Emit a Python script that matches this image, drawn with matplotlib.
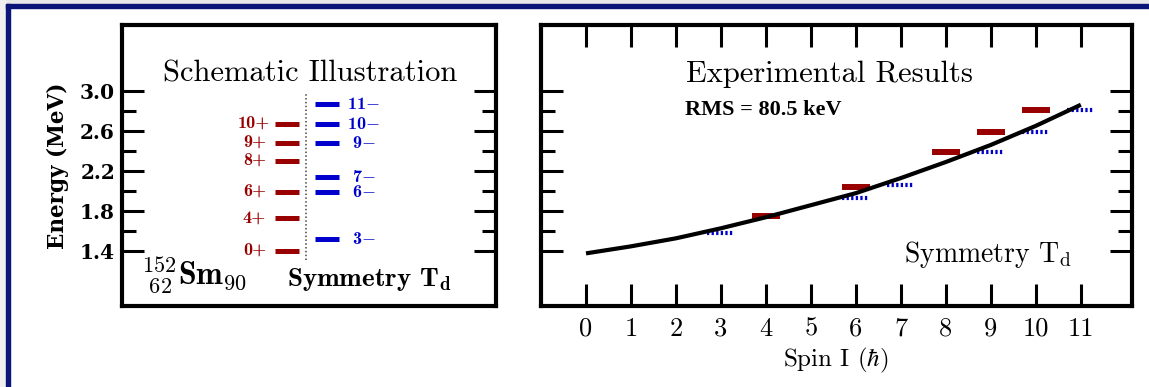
import matplotlib
matplotlib.use("Agg")
import matplotlib.pyplot as plt
from matplotlib.patches import Rectangle
from matplotlib.ticker import FixedLocator, FixedFormatter

plt.rcParams['mathtext.fontset'] = 'cm'

# ---- data ----
# schematic levels (left panel), MeV
pos_spins = ['0+', '4+', '6+', '8+', '9+', '10+']
pos_energy = [1.40, 1.73, 1.99, 2.30, 2.476, 2.669]
neg_spins = ['3', '6', '7', '9', '10', '11']
neg_energy = [1.526, 1.989, 2.138, 2.476, 2.669, 2.871]

# experimental results (right panel)
exp_pos_spin = [4, 6, 8, 9, 10]
exp_pos_energy = [1.756, 2.039, 2.387, 2.586, 2.808]
exp_neg_spin = [3, 6, 7, 9, 10, 11]
exp_neg_energy = [1.581, 1.929, 2.059, 2.387, 2.586, 2.808]

# fitted curve
fit_spin = [0, 1, 2, 3, 4, 5, 6, 7, 8, 9, 10, 11]
fit_energy = [1.38, 1.45, 1.53, 1.63, 1.74, 1.86, 1.98, 2.13, 2.29, 2.46, 2.65, 2.86]

yticks_major = [1.4, 1.8, 2.2, 2.6, 3.0]
yticks_minor = [1.6, 2.0, 2.4, 2.8]
xticks = list(range(12))

RED = '#990000'
BLUE = '#0000cc'
NAVY = '#0a1577'
RM = 'cmr10'
BF = 'cmb10'
HEAVY = 'DejaVu Serif'

W, H = 1149, 387
fig = plt.figure(figsize=(W / 100, H / 100), dpi=100)
fig.patch.set_facecolor('white')

# page frame
fig.add_artist(Rectangle((0, 1 - 4 / H), 1, 4 / H, transform=fig.transFigure,
                         color='#e8e8e8', zorder=-5))
fig.add_artist(Rectangle((0, 0), 6 / W, 1, transform=fig.transFigure,
                         color='#efefef', zorder=-5))
fig.add_artist(Rectangle((6 / W, 1 - 8 / H), 1, 4 / H, transform=fig.transFigure,
                         color=NAVY, zorder=-4))
fig.add_artist(Rectangle((6 / W, 0), 4 / W, 1 - 4 / H, transform=fig.transFigure,
                         color=NAVY, zorder=-4))

ax1 = fig.add_axes([122 / W, 81 / H, 374 / W, 281 / H])
ax2 = fig.add_axes([540.7 / W, 81 / H, 591 / W, 281 / H])

YLIM = (0.856, 3.654)


def style_axes(ax):
    for s in ax.spines.values():
        s.set_linewidth(3)
    ax.set_ylim(*YLIM)
    ax.yaxis.set_major_locator(FixedLocator(yticks_major))
    ax.yaxis.set_minor_locator(FixedLocator(yticks_minor))
    ax.tick_params(axis='y', which='major', direction='in', length=15.5, width=2.2,
                   left=True, right=True)
    ax.tick_params(axis='y', which='minor', direction='in', length=10.3, width=2.2,
                   left=True, right=True)


# ---- left: schematic ----
style_axes(ax1)
ax1.set_xlim(0, 1)
ax1.set_xticks([])
ax1.yaxis.set_major_formatter(FixedFormatter(['%.1f' % v for v in yticks_major]))
ax1.tick_params(axis='y', which='major', labelsize=14.5, pad=5)
for t in ax1.get_yticklabels():
    t.set_family(HEAVY)
    t.set_weight('bold')
ax1.set_ylabel('Energy (MeV)', fontsize=15.5, family=HEAVY, weight='bold', labelpad=8)

ax1.hlines(pos_energy, 0.409, 0.473, color=RED, lw=3.6)
ax1.hlines(neg_energy, 0.516, 0.580, color=BLUE, lw=3.6)
ax1.vlines(0.492, 1.316, 2.974, color='#444444', lw=1.1, linestyles=(0, (1, 1.5)))
for lab, e in zip(pos_spins, pos_energy):
    ax1.text(0.354, e, lab, color=RED, fontsize=13, family=BF,
             ha='center', va='center')
for lab, e in zip(neg_spins, neg_energy):
    ax1.text(0.646, e, lab + '$-$', color=BLUE, fontsize=13, family=BF,
             ha='center', va='center')

ax1.text(0.503, 0.798, 'Schematic Illustration', transform=ax1.transAxes,
         fontsize=22, family=RM, ha='center', va='baseline')
ax1.text(0.441, 0.072, r'Symmetry T$_{\mathbf{d}}$', transform=ax1.transAxes,
         fontsize=19.5, family=BF, ha='left', va='baseline')
ax1.text(0.050, 0.075, r'$^{\mathbf{152}}_{\mathbf{\ 62}}\mathbf{Sm}_{\mathbf{90}}$',
         transform=ax1.transAxes, fontsize=23, ha='left', va='baseline')

# ---- right: experiment ----
style_axes(ax2)
ax2.set_xlim(-1.007, 12.13)
ax2.set_yticklabels([])
ax2.set_xticks(xticks)
ax2.set_xticklabels(['%d' % v for v in xticks], family=RM)
ax2.tick_params(axis='x', which='major', direction='in', length=15.5, width=2.2,
                top=True, bottom=True, labelsize=19, pad=8)
ax2.set_xlabel(r'Spin I ($\hbar$)', fontsize=18, family=RM, labelpad=4)

ax2.plot(fit_spin, fit_energy, color='black', lw=3.0, solid_capstyle='butt', zorder=3)
for s, e in zip(exp_pos_spin, exp_pos_energy):
    ax2.plot([s - 0.31, s + 0.32], [e, e], color=RED, lw=4.3, solid_capstyle='butt', zorder=2)
for s, e in zip(exp_neg_spin, exp_neg_energy):
    ax2.plot([s - 0.30, s + 0.27], [e, e], color=BLUE, lw=3.0, dash_capstyle='butt',
             linestyle=(0, (0.55, 0.55)), zorder=2)

ax2.text(0.4887, 0.798, 'Experimental Results', transform=ax2.transAxes,
         fontsize=22, family=RM, ha='center', va='baseline')
ax2.text(0.244, 0.680, 'RMS = 80.5 keV', transform=ax2.transAxes, fontsize=16,
         family='Liberation Serif', weight='bold', ha='left', va='baseline')
ax2.text(0.615, 0.158, r'Symmetry T$_{\mathrm{d}}$', transform=ax2.transAxes,
         fontsize=20, family=RM, ha='left', va='baseline')

fig.savefig('out.png', dpi=100)
